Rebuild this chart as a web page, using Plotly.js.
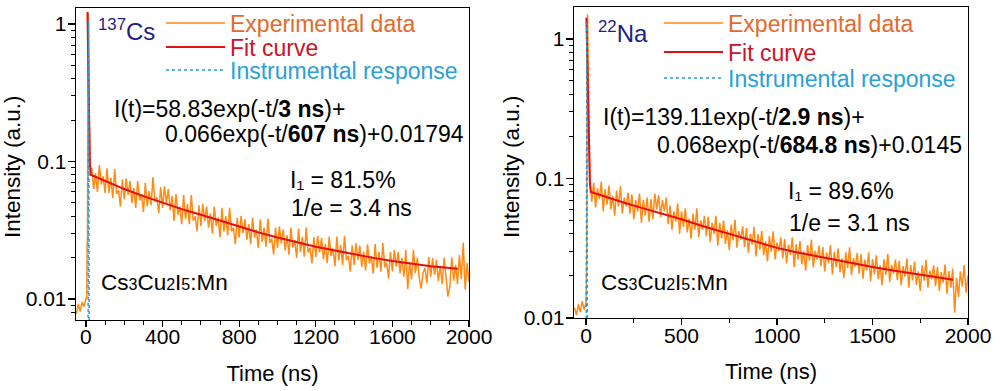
<!DOCTYPE html>
<html><head><meta charset="utf-8">
<script src="https://cdn.plot.ly/plotly-3.0.1.min.js"></script>
<style>html,body{margin:0;padding:0;background:#fff}#plot{width:1000px;height:391px}</style>
</head><body><div id="plot"></div><script>
// shared time grid (ns)
const time = [-60,-50,-40,-30,-20,-10,0,4,6,8,10,12,14,16,18,20,22,25,
30,40,50,60,70,80,90,100,110,120,130,140,150,160,170,180,190,200,
210,220,230,240,250,260,270,280,290,300,310,320,330,340,350,360,370,380,390,400,
410,420,430,440,450,460,470,480,490,500,510,520,530,540,550,560,570,580,590,600,
610,620,630,640,650,660,670,680,690,700,710,720,730,740,750,760,770,780,790,800,
810,820,830,840,850,860,870,880,890,900,910,920,930,940,950,960,970,980,990,1000,
1010,1020,1030,1040,1050,1060,1070,1080,1090,1100,1110,1120,1130,1140,1150,1160,1170,1180,1190,1200,
1210,1220,1230,1240,1250,1260,1270,1280,1290,1300,1310,1320,1330,1340,1350,1360,1370,1380,1390,1400,
1410,1420,1430,1440,1450,1460,1470,1480,1490,1500,1510,1520,1530,1540,1550,1560,1570,1580,1590,1600,
1610,1620,1630,1640,1650,1660,1670,1680,1690,1700,1710,1720,1730,1740,1750,1760,1770,1780,1790,1800,
1810,1820,1830,1840,1850,1860,1870,1880,1890,1900,1910,1920,1930,1940,1950,1960,1970,1980,1990,2000];

// 137Cs excited Cs3Cu2I5:Mn — experimental data
const csData = [0.0085,0.0078,0.0092,0.0081,0.0095,0.0088,0.0100,0.0105,0.024,0.028,0.40,1.20,0.70,0.30,0.15,0.10,0.088,0.083,
0.090,0.063,0.082,0.060,0.094,0.068,0.078,0.059,
0.089,0.059,0.076,0.054,0.088,0.058,0.062,0.047,0.074,0.053,
0.075,0.057,0.072,0.050,0.064,0.046,0.072,0.052,0.058,0.043,
0.070,0.047,0.061,0.048,0.077,0.051,0.055,0.042,0.065,0.046,
0.066,0.050,0.063,0.044,0.056,0.037,0.058,0.041,0.047,0.035,
0.057,0.038,0.049,0.035,0.057,0.037,0.040,0.031,0.048,0.034,
0.049,0.037,0.047,0.033,0.042,0.030,0.047,0.034,0.039,0.028,
0.046,0.031,0.040,0.029,0.046,0.031,0.033,0.025,0.039,0.028,
0.040,0.030,0.038,0.027,0.035,0.025,0.039,0.028,0.032,0.0235,
0.038,0.026,0.033,0.024,0.0385,0.0255,0.0275,0.021,0.033,0.0235,
0.0336,0.0254,0.032,0.0225,0.029,0.021,0.033,0.0236,0.0268,0.0199,
0.0325,0.0219,0.0283,0.0203,0.033,0.0218,0.0236,0.0181,0.0282,0.0202,
0.0288,0.0218,0.0277,0.0194,0.0251,0.0182,0.0284,0.0205,0.0233,0.0173,
0.0284,0.0191,0.0248,0.0177,0.0288,0.0191,0.0206,0.0158,0.0246,0.0177,
0.0254,0.0192,0.0244,0.0171,0.0221,0.0161,0.025,0.0181,0.0206,0.0153,
0.0251,0.0169,0.022,0.0158,0.0256,0.017,0.0184,0.0141,0.022,0.0159,
0.0227,0.0172,0.0219,0.0154,0.0199,0.0145,0.0227,0.0118,0.0186,0.0139,
0.0227,0.0154,0.0199,0.0143,0.0119,0.0155,0.0168,0.013,0.0202,0.0145,
0.0198,0.015,0.0192,0.0135,0.0174,0.0128,0.0199,0.0144,0.0104,0.0123,
0.0201,0.0136,0.0177,0.0128,0.0209,0.0139,0.0256,0.0117,0.0183,0.0133];

// 22Na excited Cs3Cu2I5:Mn — experimental data
const naData = [0.0118,0.0105,0.0125,0.0110,0.0132,0.0115,0.0128,0.029,0.60,1.50,1.00,0.50,0.25,0.15,0.11,0.095,0.088,0.084,
0.068,0.093,0.062,0.085,0.071,0.095,0.058,0.084,
0.065,0.089,0.060,0.075,0.054,0.082,0.063,0.088,0.056,0.073,
0.063,0.079,0.056,0.077,0.051,0.070,0.058,0.078,0.048,0.070,
0.054,0.073,0.049,0.071,0.051,0.078,0.060,0.076,0.053,0.070,
0.058,0.073,0.047,0.064,0.043,0.058,0.049,0.066,0.040,0.058,
0.045,0.061,0.041,0.0515,0.037,0.056,0.043,0.061,0.038,0.050,
0.043,0.054,0.0385,0.053,0.035,0.048,0.040,0.054,0.033,0.048,
0.037,0.050,0.034,0.0426,0.0306,0.0467,0.036,0.0506,0.0319,0.042,
0.0363,0.0454,0.0323,0.0441,0.0294,0.040,0.0336,0.045,0.0276,0.0399,
0.0309,0.042,0.0282,0.0354,0.0254,0.0387,0.0298,0.0418,0.0263,0.0347,
0.030,0.0377,0.0267,0.0368,0.0246,0.0336,0.0282,0.0378,0.0232,0.0337,
0.0262,0.0356,0.0242,0.0303,0.0218,0.0333,0.0258,0.0364,0.023,0.0303,
0.0262,0.033,0.0235,0.0322,0.0216,0.0295,0.0247,0.0333,0.0205,0.0298,
0.0231,0.0315,0.0213,0.0268,0.0193,0.0295,0.0228,0.0321,0.0203,0.0268,
0.0233,0.0292,0.0208,0.0287,0.0191,0.0262,0.0219,0.0296,0.0183,0.0264,
0.0206,0.0281,0.019,0.0238,0.0172,0.0263,0.0204,0.0288,0.0181,0.024,
0.0208,0.0262,0.0187,0.0257,0.0172,0.0235,0.0198,0.0267,0.0165,0.0239,
0.0186,0.0254,0.0172,0.0216,0.0156,0.0239,0.0185,0.0261,0.0165,0.0218,
0.0189,0.0238,0.0169,0.0233,0.0156,0.0213,0.0179,0.0242,0.0149,0.0217,
0.0165,0.0226,0.0109,0.0194,0.0141,0.0216,0.0168,0.0239,0.0152,0.0202];

// fit curves
const csFitT = [8,12,16,20,25,100,200,300,400,500,600,700,800,900,1000,1100,1200,1300,1400,1500,1600,1700,1800,1900,1942];
const csFit  = [1.22,0.5,0.18,0.1,0.080,0.072,0.063,0.056,0.050,0.045,0.041,0.037,0.0335,0.0305,0.028,0.0258,0.024,0.0225,0.0211,0.0199,0.0189,0.018,0.0173,0.0168,0.0166];
const naFitT = [2,8,12,16,20,25,100,200,300,400,500,600,700,800,900,1000,1100,1200,1300,1400,1500,1600,1700,1800,1900,1922];
const naFit  = [1.42,0.5,0.2,0.12,0.095,0.080,0.074,0.067,0.061,0.056,0.051,0.046,0.042,0.0385,0.035,0.0318,0.0296,0.0278,0.0261,0.0246,0.0232,0.022,0.021,0.020,0.019,0.0188];

// instrumental response
const csIrfT = [-60,10,12,14,16,18,2000];
const csIrf  = [0.001,0.001,0.03,1.06,0.03,0.001,0.001];
const naIrfT = [-60,0,2,4,6,8,2000];
const naIrf  = [0.001,0.001,0.03,1.3,0.03,0.001,0.001];

const xTicksCs = [0,400,800,1200,1600,2000];
const xTicksNa = [0,500,1000,1500,2000];
const yTicks = [0.01,0.1,1];
const yTickText = ['0.01','0.1','1'];
const yMinor = [0.007,0.008,0.009,0.02,0.03,0.04,0.05,0.06,0.07,0.08,0.09,0.2,0.3,0.4,0.5,0.6,0.7,0.8,0.9];

const cOrange = '#ff8a14', cRed = '#e01015', cBlue = '#2a9bd8';
const FONT = 'Liberation Sans, Arial, sans-serif';

const traces = [
  {x: time, y: csData, xaxis:'x', yaxis:'y', mode:'lines', name:'Experimental data', legend:'legend', line:{color:cOrange, width:1.5}},
  {x: csFitT, y: csFit, xaxis:'x', yaxis:'y', mode:'lines', name:'Fit curve', legend:'legend2', line:{color:cRed, width:2}},
  {x: csIrfT, y: csIrf, xaxis:'x', yaxis:'y', mode:'lines', name:'Instrumental response', legend:'legend3', line:{color:cBlue, width:1.5, dash:'dot'}},
  {x: time, y: naData, xaxis:'x2', yaxis:'y2', mode:'lines', name:'Experimental data', legend:'legend4', line:{color:cOrange, width:1.5}},
  {x: naFitT, y: naFit, xaxis:'x2', yaxis:'y2', mode:'lines', name:'Fit curve', legend:'legend5', line:{color:cRed, width:2}},
  {x: naIrfT, y: naIrf, xaxis:'x2', yaxis:'y2', mode:'lines', name:'Instrumental response', legend:'legend6', line:{color:cBlue, width:1.5, dash:'dot'}}
];

function leg(x, y, color){
  return {x:x, y:y, xanchor:'left', yanchor:'middle', bgcolor:'rgba(0,0,0,0)', borderwidth:0, itemwidth:59,
          font:{family:FONT, size:23, color:color}};
}
function xax(domain, range, ticks, minorDt, anchor){
  return {domain:domain, range:range, anchor:anchor, tickmode:'array', tickvals:ticks,
    ticks:'outside', ticklen:6, tickwidth:1.3, tickcolor:'#000', ticklabelstandoff:-8,
    showline:true, mirror:true, linewidth:1.3, linecolor:'#000', zeroline:false, showgrid:false,
    tickfont:{family:FONT, size:21, color:'#000'},
    minor:{dtick:minorDt, tick0:0, ticks:'outside', ticklen:3.5, tickwidth:1, tickcolor:'#000', showgrid:false},
    title:{text:'Time (ns)', font:{family:FONT, size:22, color:'#000'}, standoff:18}};
}
function yax(domain, range, anchor){
  return {domain:domain, type:'log', range:range, anchor:anchor, tickmode:'array', tickvals:yTicks, ticktext:yTickText,
    ticks:'outside', ticklen:7, tickwidth:1.3, tickcolor:'#000', ticklabelstandoff:-3,
    showline:true, mirror:true, linewidth:1.3, linecolor:'#000', zeroline:false, showgrid:false,
    tickfont:{family:FONT, size:21, color:'#000'},
    minor:{tickmode:'array', tickvals:yMinor, ticks:'outside', ticklen:4, tickwidth:1, tickcolor:'#000', showgrid:false}};
}
function ann(text, x, y, xanchor, opts){
  return Object.assign({text:text, x:x/1000, y:1-y/391, xref:'paper', yref:'paper', xanchor:xanchor, yanchor:'middle',
    showarrow:false, font:{family:FONT, size:23, color:'#000'}}, opts||{});
}
const navy = '#1c2280';
const mat = 'Cs<span style="font-size:16px">3</span>Cu<span style="font-size:16px">2</span>I<span style="font-size:16px">5</span>:Mn';
const yTitle = 'Intensity (a.u.)';

const layout = {
  width:1000, height:391, margin:{l:0,r:0,t:0,b:0}, paper_bgcolor:'#fff', plot_bgcolor:'#fff',
  font:{family:FONT, color:'#000'}, showlegend:true,
  xaxis: xax([0.076,0.469], [-52,2000], xTicksCs, 100, 'y'),
  yaxis: yax([0.1816,0.9795], [-2.153,0.116], 'x'),
  xaxis2: xax([0.574,0.968], [-63,2000], xTicksNa, 250, 'y2'),
  yaxis2: yax([0.1867,0.982], [-2.0,0.228], 'x2'),
  legend: leg(0.161, 1-23/391, '#e5692c'),
  legend2: leg(0.161, 1-47/391, '#cc1226'),
  legend3: leg(0.161, 1-70/391, '#2a9fd8'),
  legend4: leg(0.659, 1-23/391, '#e5692c'),
  legend5: leg(0.659, 1-52/391, '#cc1226'),
  legend6: leg(0.659, 1-78/391, '#2a9fd8'),
  annotations: [
    ann(yTitle, 12, 167, 'center', {textangle:-90, font:{family:FONT, size:22.5, color:'#000'}}),
    ann(yTitle, 511, 167, 'center', {textangle:-90, font:{family:FONT, size:22.5, color:'#000'}}),
    ann('<sup>137</sup>Cs', 96, 30, 'left', {font:{family:FONT, size:24, color:navy}}),
    ann('I(t)=58.83exp(-t/<b>3 ns</b>)+', 112, 109, 'left'),
    ann('0.066exp(-t/<b>607 ns</b>)+0.01794', 466, 134, 'right'),
    ann('I\u2081 = 81.5%', 288, 180, 'left'),
    ann('1/e = 3.4 ns', 289, 208, 'left'),
    ann(mat, 99, 282, 'left', {font:{family:FONT, size:22.5, color:'#000'}}),
    ann('<sup>22</sup>Na', 596, 32, 'left', {font:{family:FONT, size:24, color:navy}}),
    ann('I(t)=139.11exp(-t/<b>2.9 ns</b>)+', 601, 117, 'left'),
    ann('0.068exp(-t/<b>684.8 ns</b>)+0.0145', 964, 145, 'right'),
    ann('I\u2081 = 89.6%', 786, 191, 'left'),
    ann('1/e = 3.1 ns', 787, 223, 'left'),
    ann(mat, 599, 282, 'left', {font:{family:FONT, size:22.5, color:'#000'}})
  ]
};

Plotly.newPlot('plot', traces, layout, {displayModeBar:false, staticPlot:true});
</script></body></html>
